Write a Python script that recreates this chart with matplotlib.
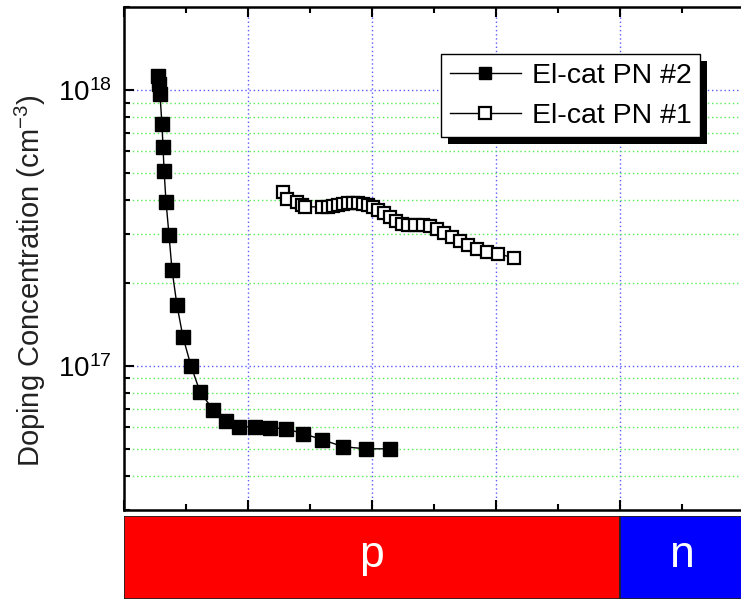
import matplotlib
matplotlib.use("Agg")
import matplotlib.pyplot as plt
from matplotlib.patches import Rectangle
from matplotlib.ticker import LogLocator, MultipleLocator, NullFormatter

plt.rcParams['font.family'] = ['Liberation Sans', 'DejaVu Sans']
plt.rcParams['mathtext.fontset'] = 'custom'
plt.rcParams['mathtext.rm'] = 'Liberation Sans'
plt.rcParams['mathtext.it'] = 'Liberation Sans:italic'

# El-cat PN #2 (filled squares): depth position vs doping concentration
pn2_x = [0.274, 0.282, 0.290, 0.306, 0.315, 0.323, 0.339, 0.363, 0.387, 0.427,
         0.476, 0.540, 0.613, 0.718, 0.823, 0.927, 1.056, 1.177, 1.306, 1.444,
         1.597, 1.766, 1.952, 2.145]
pn2_conc = [1.12e18, 1.05e18, 9.7e17, 7.5e17, 6.2e17, 5.1e17, 3.93e17, 2.98e17,
            2.23e17, 1.66e17, 1.27e17, 1.0e17, 8.05e16, 6.93e16, 6.32e16, 6.01e16,
            6.01e16, 5.96e16, 5.91e16, 5.68e16, 5.40e16, 5.09e16, 5.0e16, 5.0e16]

# El-cat PN #1 (open squares)
pn1_x = [1.282, 1.315, 1.395, 1.435, 1.460, 1.597, 1.645, 1.685, 1.726, 1.766,
         1.806, 1.847, 1.887, 1.927, 1.968, 2.008, 2.048, 2.097, 2.145, 2.194,
         2.242, 2.290, 2.347, 2.411, 2.468, 2.524, 2.581, 2.645, 2.710, 2.774,
         2.847, 2.927, 3.016, 3.145]
pn1_conc = [4.26e17, 4.02e17, 3.93e17, 3.83e17, 3.77e17, 3.77e17, 3.77e17, 3.79e17,
            3.82e17, 3.85e17, 3.88e17, 3.90e17, 3.90e17, 3.87e17, 3.83e17, 3.77e17,
            3.67e17, 3.58e17, 3.46e17, 3.35e17, 3.27e17, 3.24e17, 3.24e17, 3.24e17,
            3.22e17, 3.14e17, 3.03e17, 2.93e17, 2.84e17, 2.74e17, 2.65e17, 2.59e17,
            2.55e17, 2.46e17]

# p / n regions of the junction
region_labels = ['p', 'n']
region_start = [0.0, 4.0]
region_width = [4.0, 1.0]
region_colors = ['#ff0000', '#0000ff']

W, H = 741, 601
fig = plt.figure(figsize=(W / 100, H / 100), dpi=100)

x_max = 5.5
ax_w = x_max * 124 / W
ax = fig.add_axes([124 / W, 91 / H, ax_w, 503 / H])

ax.plot(pn2_x, pn2_conc, color='black', lw=1, marker='s', ms=10,
        mfc='black', mec='black', label='El-cat PN #2', zorder=3)
ax.plot(pn1_x, pn1_conc, color='black', lw=1, marker='s', ms=9,
        mfc='white', mec='black', mew=1.6, label='El-cat PN #1', zorder=3)

ax.set_yscale('log')
ax.set_ylim(3e16, 2e18)
ax.set_xlim(0, x_max)

ax.yaxis.set_minor_locator(LogLocator(base=10, subs=range(2, 10), numticks=20))
ax.yaxis.set_minor_formatter(NullFormatter())
ax.set_yticks([1e17, 1e18])
ax.set_yticklabels([r'$\mathregular{10^{17}}$', r'$\mathregular{10^{18}}$'])
ax.xaxis.set_major_locator(MultipleLocator(1))
ax.xaxis.set_minor_locator(MultipleLocator(0.5))
ax.xaxis.set_major_formatter(NullFormatter())

ax.tick_params(which='both', direction='in', top=True, right=False, width=1.5)
ax.tick_params(which='major', length=7, labelsize=20, pad=9)
ax.tick_params(which='minor', length=4)

ax.grid(True, which='major', axis='both', color='#5a5aff', lw=1, ls=(0, (1, 2)))
ax.grid(True, which='minor', axis='y', color='#55ee55', lw=1, ls=(0, (1, 2)))
ax.set_axisbelow(True)

for s in ax.spines.values():
    s.set_linewidth(1.8)

ax.set_ylabel(r'Doping Concentration (cm$^{\mathregular{-3}}$)', fontsize=21,
              color='#222222')
ax.yaxis.set_label_coords(-0.112, 0.455)

leg = ax.legend(loc='upper left', bbox_to_anchor=(441 / W, 1 - 54 / H),
                bbox_transform=fig.transFigure, borderaxespad=0, fontsize=20.5,
                fancybox=False, framealpha=1, edgecolor='black',
                handlelength=2.5, handletextpad=0.4, labelspacing=0.5,
                borderpad=0.3, markerscale=0.9)
leg.get_frame().set_linewidth(1.0)
leg.set_zorder(6)

# solid black drop shadow behind the legend box
fig.canvas.draw()
bb = leg.get_window_extent().transformed(ax.transAxes.inverted())
dx = 7 / (ax_w * W)
dy = 7 / 503
ax.add_patch(Rectangle((bb.x0 + dx, bb.y0 - dy), bb.width, bb.height,
                       transform=ax.transAxes, facecolor='black',
                       edgecolor='none', zorder=5.5, clip_on=False))

# junction region bar under the plot
bar = fig.add_axes([124 / W, 2 / H, ax_w, 83 / H])
bar.barh(0, region_width, left=region_start, height=1, color=region_colors,
         edgecolor='#222222', lw=1.2)
for lab, x0, w in zip(region_labels, region_start, region_width):
    bar.text(x0 + w / 2, 0.02, lab, color='white', fontsize=32,
             ha='center', va='center')
bar.set_xlim(0, x_max)
bar.set_ylim(-0.5, 0.5)
bar.axis('off')

fig.savefig('out.png', dpi=100)
